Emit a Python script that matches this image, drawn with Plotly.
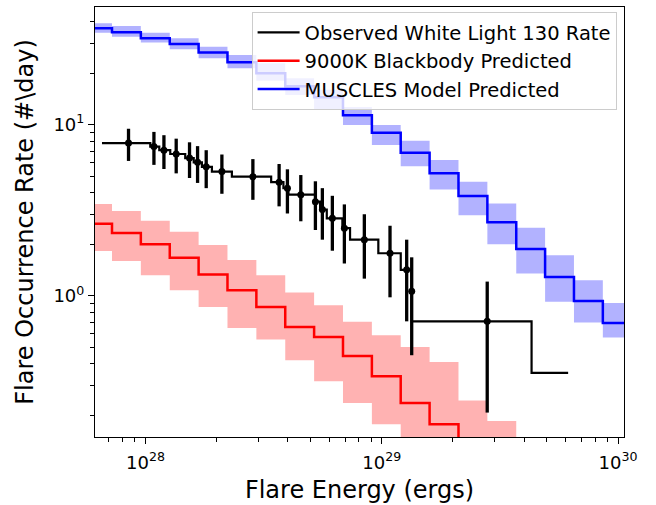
import plotly.graph_objects as go

# ---------------- data ----------------
# model bin edges (erg) shared by the two predicted curves
bin_edges = [5.44e27, 7.21e27, 9.55e27, 1.266e28, 1.677e28, 2.222e28, 2.944e28,
             3.901e28, 5.169e28, 6.849e28, 9.076e28, 1.202e29, 1.593e29, 2.111e29,
             2.797e29, 3.706e29, 4.909e29, 6.505e29, 8.619e29, 1.142e30]

muscles_rate = [36.6, 34.7, 32.0, 29.6, 26.4, 23.2, 20.0, 16.8, 14.5, 11.35,
                8.98, 6.86, 5.20, 3.83, 2.69, 1.876, 1.291, 0.935, 0.695]
muscles_lo = [34.5, 32.7, 30.2, 27.6, 24.5, 21.4, 18.1, 14.9, 12.3, 9.96,
              7.61, 5.73, 4.19, 2.96, 2.00, 1.35, 0.923, 0.699, 0.571]
muscles_hi = [39.2, 37.8, 34.5, 32.0, 28.6, 25.6, 22.9, 18.7, 16.0, 12.7,
              9.96, 8.06, 6.22, 4.64, 3.47, 2.50, 1.73, 1.235, 0.910]

bb_rate = [2.64, 2.33, 2.00, 1.67, 1.334, 1.08, 0.862, 0.659, 0.576, 0.446,
           0.339, 0.237, 0.178, 0.13, 0.10]
bb_lo = [1.83, 1.60, 1.32, 1.08, 0.862, 0.650, 0.556, 0.421, 0.317, 0.237,
         0.178, 0.12, 0.09, 0.07, 0.05]
bb_hi = [3.44, 3.13, 2.75, 2.37, 1.98, 1.62, 1.32, 1.047, 0.882, 0.705,
         0.589, 0.503, 0.411, 0.245, 0.186]

# observed flares (cumulative rate with errors)
obs_energy = [8.47e27, 1.085e28, 1.196e28, 1.348e28, 1.535e28, 1.660e28, 1.806e28,
              2.104e28, 2.846e28, 3.675e28, 3.985e28, 4.540e28, 5.234e28, 5.602e28,
              6.175e28, 6.942e28, 8.433e28, 1.083e29, 1.274e29, 1.338e29, 2.793e29]
obs_rate = [7.81, 7.455, 7.10, 6.745, 6.39, 6.035, 5.68, 5.325, 4.97, 4.615, 4.26,
            3.905, 3.55, 3.195, 2.84, 2.485, 2.13, 1.775, 1.42, 1.065, 0.71]
obs_err = [1.665, 1.627, 1.588, 1.547, 1.506, 1.464, 1.42, 1.375, 1.328, 1.28, 1.23,
           1.177, 1.123, 1.065, 1.004, 0.939, 0.869, 0.794, 0.71, 0.615, 0.502]

# observed step curve (segment start energies and levels)
obs_step_energy = [6.54e27, 1.047e28, 1.143e28, 1.272e28, 1.472e28, 1.599e28, 1.732e28,
                   1.909e28, 2.319e28, 3.401e28, 3.833e28, 4.024e28, 5.219e28, 5.480e28,
                   5.848e28, 6.808e28, 7.337e28, 9.665e28, 1.2025e29, 1.338e29, 4.303e29,
                   6.146e29]
obs_step_rate = [7.81, 7.455, 7.10, 6.745, 6.39, 6.035, 5.68, 5.325, 4.97, 4.615, 4.26,
                 3.905, 3.55, 3.195, 2.84, 2.485, 2.13, 1.775, 1.42, 0.71, 0.355, 0.355]

x_major = [1e28, 1e29, 1e30]
x_major_text = ["10<sup>28</sup>", "10<sup>29</sup>", "10<sup>30</sup>"]
x_minor = [7e27, 8e27, 9e27, 2e28, 3e28, 4e28, 5e28, 6e28, 7e28, 8e28, 9e28,
           2e29, 3e29, 4e29, 5e29, 6e29, 7e29, 8e29, 9e29]
y_major = [1, 10]
y_major_text = ["10<sup>0</sup>", "10<sup>1</sup>"]
y_minor = [0.2, 0.3, 0.4, 0.5, 0.6, 0.7, 0.8, 0.9, 2, 3, 4, 5, 6, 7, 8, 9, 20, 30, 40]

labels = ["Observed White Light 130 Rate", "9000K Blackbody Predicted",
          "MUSCLES Model Predicted"]


def stepped(values):
    n = len(values)
    return bin_edges[:n + 1], list(values) + [values[-1]]


fig = go.Figure()

# shaded uncertainty bands
for lo, hi, col in [(bb_lo, bb_hi, "rgba(255,0,0,0.3)"),
                    (muscles_lo, muscles_hi, "rgba(0,0,255,0.3)")]:
    xs, ys = stepped(lo)
    fig.add_trace(go.Scatter(x=xs, y=ys, mode="lines", line=dict(width=0, shape="hv"),
                             showlegend=False, hoverinfo="skip"))
    xs, ys = stepped(hi)
    fig.add_trace(go.Scatter(x=xs, y=ys, mode="lines", line=dict(width=0, shape="hv"),
                             fill="tonexty", fillcolor=col, showlegend=False,
                             hoverinfo="skip"))

fig.add_trace(go.Scatter(x=obs_step_energy, y=obs_step_rate, mode="lines",
                         line=dict(color="black", width=2.2, shape="hv"),
                         name=labels[0]))
xs, ys = stepped(bb_rate)
fig.add_trace(go.Scatter(x=xs, y=ys, mode="lines",
                         line=dict(color="#ff0000", width=2.5, shape="hv"),
                         name=labels[1]))
xs, ys = stepped(muscles_rate)
fig.add_trace(go.Scatter(x=xs, y=ys, mode="lines",
                         line=dict(color="#0000ff", width=2.5, shape="hv"),
                         name=labels[2]))

fig.add_trace(go.Scatter(x=obs_energy, y=obs_rate, mode="markers",
                         marker=dict(color="black", size=7),
                         error_y=dict(type="data", array=obs_err, visible=True,
                                      color="black", thickness=3.3, width=0),
                         showlegend=False))

axis_common = dict(type="log", showline=True, mirror=True, linecolor="black",
                   linewidth=1.2, ticks="outside", ticklen=6, tickwidth=1.2,
                   tickcolor="black", showgrid=False, zeroline=False,
                   tickfont=dict(size=18, color="black"), automargin=False)

fig.update_layout(
    width=656, height=505,
    margin=dict(l=95, r=32, t=7, b=68),
    paper_bgcolor="white", plot_bgcolor="white",
    font=dict(family="DejaVu Sans", color="black"),
    xaxis=dict(range=[27.786, 30.025], tickmode="array", tickvals=x_major,
               ticktext=x_major_text, ticklabelstandoff=3,
               minor=dict(ticks="outside", ticklen=3.5, tickwidth=1, tickcolor="black",
                          tickvals=x_minor, showgrid=False),
               title=dict(text="Flare Energy (ergs)", font=dict(size=24), standoff=9),
               **axis_common),
    yaxis=dict(range=[-0.8246, 1.688], tickmode="array", tickvals=y_major,
               ticktext=y_major_text,
               minor=dict(ticks="outside", ticklen=3.5, tickwidth=1, tickcolor="black",
                          tickvals=y_minor, showgrid=False),
               title=dict(text="Flare Occurrence Rate (#\\day)", font=dict(size=24),
                          standoff=12),
               **axis_common),
    legend=dict(x=0.986, y=0.988, xanchor="right", yanchor="top",
                traceorder="normal",
                bgcolor="rgba(255,255,255,0.8)", bordercolor="#cccccc", borderwidth=1,
                font=dict(size=19.5), itemwidth=42, tracegroupgap=0),
    showlegend=True,
)

fig.write_html("out.html")
